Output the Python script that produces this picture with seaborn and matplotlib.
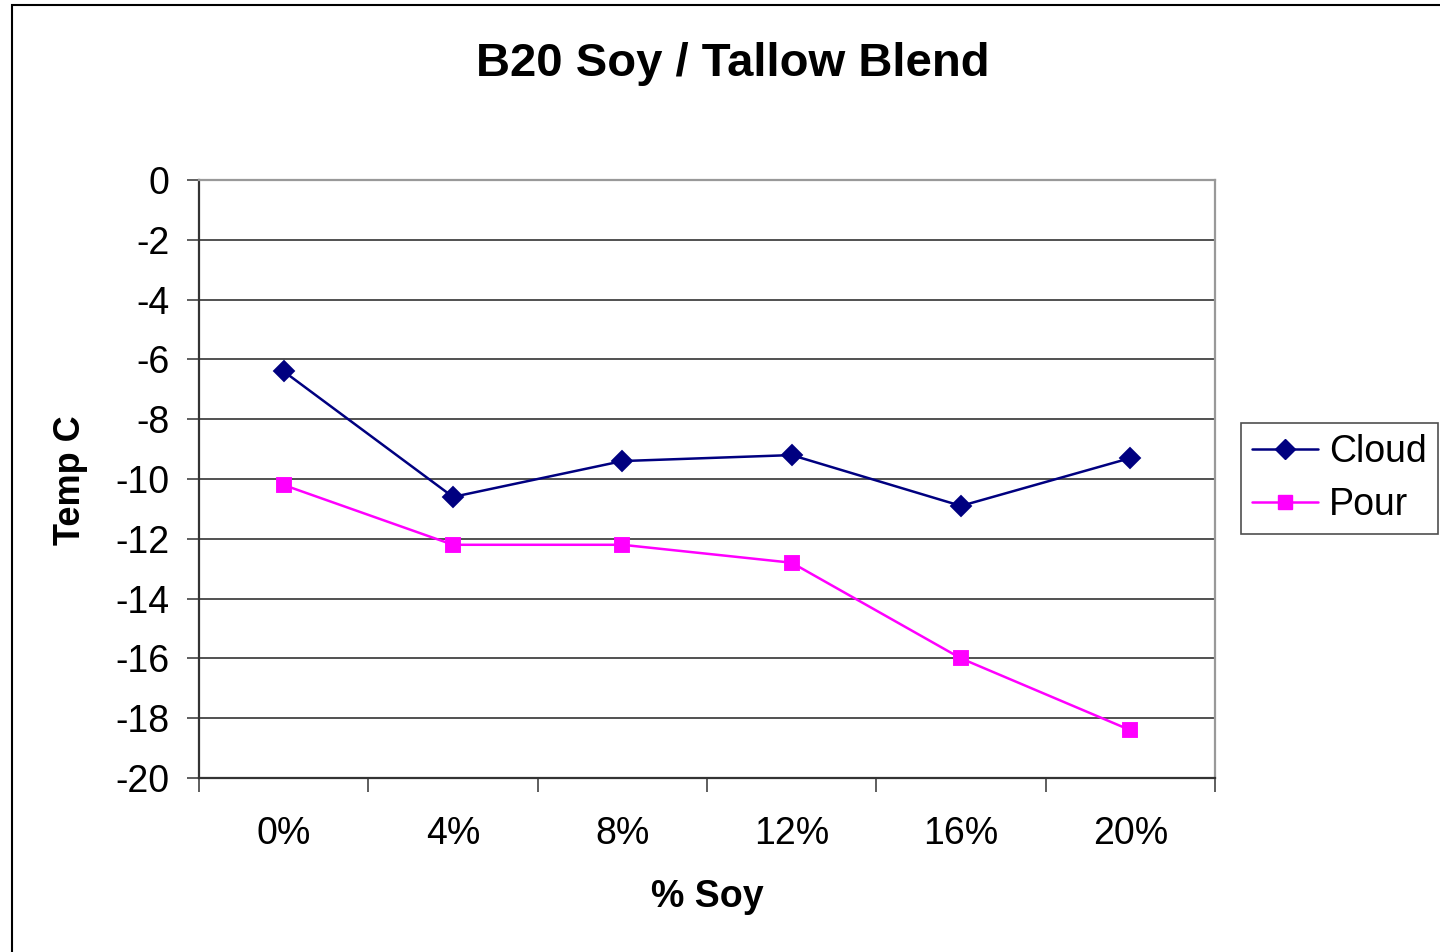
import matplotlib
matplotlib.use("Agg")
import matplotlib.pyplot as plt
from matplotlib.patches import Rectangle
from matplotlib.ticker import FixedLocator
import seaborn as sns
import pandas as pd

# Blend composition (% soy in the B20 soy/tallow blend)
soy_pct = ["0%", "4%", "8%", "12%", "16%", "20%"]
# Cloud point and pour point, deg C
cloud = [-6.4, -10.6, -9.4, -9.2, -10.9, -9.3]
pour = [-10.2, -12.2, -12.2, -12.8, -16.0, -18.4]

df = pd.concat([
    pd.DataFrame({"soy": soy_pct, "temp": cloud, "series": "Cloud"}),
    pd.DataFrame({"soy": soy_pct, "temp": pour, "series": "Pour"}),
], ignore_index=True)

sns.set_theme(style="white")
plt.rcParams["font.family"] = ["Liberation Sans", "DejaVu Sans"]
plt.rcParams["axes.unicode_minus"] = False
plt.rcParams["text.color"] = "black"
plt.rcParams["xtick.color"] = "black"
plt.rcParams["ytick.color"] = "black"

fig = plt.figure(figsize=(14.4, 9.52), dpi=100)
ax = fig.add_axes([199 / 1440, 1 - 778 / 952, (1215 - 199) / 1440, (778 - 180) / 952])

sns.pointplot(
    data=df, x="soy", y="temp", hue="series", ax=ax,
    palette={"Cloud": "#000080", "Pour": "#FF00FF"},
    markers=["D", "s"], linestyles=["-", "-"],
    markersize=10, linewidth=1.8, legend=False,
)

ax.set_xlim(-0.5, len(soy_pct) - 0.5)
ax.set_ylim(-20, 0)
ax.set_yticks(range(-20, 1, 2))
ax.yaxis.grid(True, color="#222222", linewidth=1.1)
ax.xaxis.grid(False)

# Category labels centred in slots, tick marks on the slot boundaries
ax.xaxis.set_minor_locator(FixedLocator([i - 0.5 for i in range(len(soy_pct) + 1)]))
ax.tick_params(axis="x", which="major", length=0, pad=27, labelsize=27, labelcolor="black")
ax.tick_params(axis="x", which="minor", bottom=True, length=10, width=1.1, color="#333333")
ax.tick_params(axis="y", which="major", left=True, length=9, width=1.1, color="#333333",
               labelsize=27, pad=12, labelcolor="black")

for side in ("top", "right"):
    ax.spines[side].set_color("#999999")
    ax.spines[side].set_linewidth(1.6)
for side in ("left", "bottom"):
    ax.spines[side].set_color("#333333")
    ax.spines[side].set_linewidth(1.6)

ax.set_xlabel("")
ax.set_ylabel("")
fig.text(733 / 1440, 1 - 64 / 952, "B20 Soy / Tallow Blend", ha="center", va="center",
         fontsize=34, fontweight="bold", color="black")
fig.text(707 / 1440, 1 - 897 / 952, "% Soy", ha="center", va="center",
         fontsize=27, fontweight="bold", color="black")
fig.text(70 / 1440, 1 - 480 / 952, "Temp C", ha="center", va="center",
         rotation=90, fontsize=26, fontweight="bold", color="black")

handles = [
    plt.Line2D([], [], color="#000080", marker="D", markersize=10, linewidth=1.8),
    plt.Line2D([], [], color="#FF00FF", marker="s", markersize=10, linewidth=1.8),
]
leg = ax.legend(handles, ["Cloud", "Pour"], loc="upper left",
                bbox_to_anchor=(1241 / 1440, 1 - 423 / 952), bbox_transform=fig.transFigure,
                fontsize=27, frameon=True, fancybox=False, borderpad=0.3,
                handlelength=1.75, handletextpad=0.3, labelspacing=0.45, borderaxespad=0)
leg.get_frame().set_edgecolor("#222222")
leg.get_frame().set_linewidth(1.2)
for t in leg.get_texts():
    t.set_color("black")

# Chart frame
fig.patches.append(Rectangle((12 / 1440, -0.1), 1.2, 1 - 5 / 952 + 0.1,
                             transform=fig.transFigure, fill=False,
                             edgecolor="black", linewidth=1.5))

fig.savefig("out.png", dpi=100, facecolor="white")
